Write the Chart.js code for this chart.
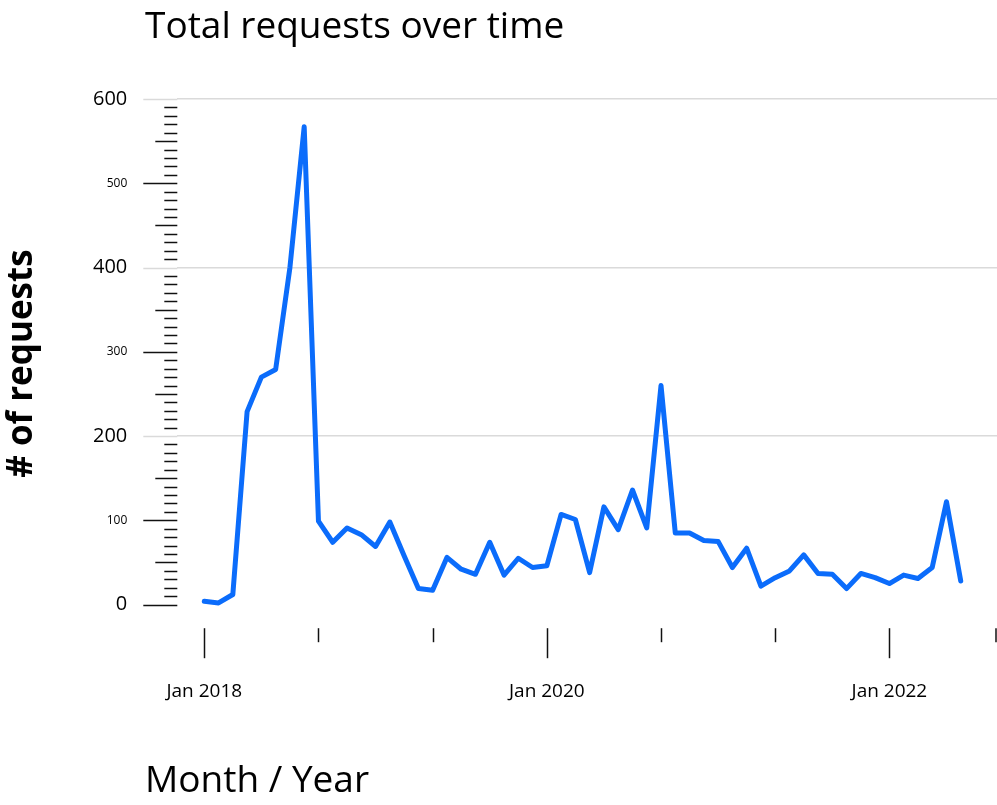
<!DOCTYPE html>
<html>
<head>
<meta charset="utf-8">
<script src="https://cdn.jsdelivr.net/npm/chart.js@4"></script>
<style>
  html, body { margin: 0; padding: 0; background: #fff; }
  #wrap { width: 997px; height: 805px; }
</style>
</head>
<body>
<div id="wrap"><canvas id="chart"></canvas></div>
<script>
// Monthly totals, Jan 2018 - Jun 2022
const months = [
  'Jan 2018','Feb 2018','Mar 2018','Apr 2018','May 2018','Jun 2018','Jul 2018','Aug 2018','Sep 2018','Oct 2018','Nov 2018','Dec 2018',
  'Jan 2019','Feb 2019','Mar 2019','Apr 2019','May 2019','Jun 2019','Jul 2019','Aug 2019','Sep 2019','Oct 2019','Nov 2019','Dec 2019',
  'Jan 2020','Feb 2020','Mar 2020','Apr 2020','May 2020','Jun 2020','Jul 2020','Aug 2020','Sep 2020','Oct 2020','Nov 2020','Dec 2020',
  'Jan 2021','Feb 2021','Mar 2021','Apr 2021','May 2021','Jun 2021','Jul 2021','Aug 2021','Sep 2021','Oct 2021','Nov 2021','Dec 2021',
  'Jan 2022','Feb 2022','Mar 2022','Apr 2022','May 2022','Jun 2022'
];
const requests = [
  4, 2, 12, 229, 270, 279, 400, 567, 99, 74, 91, 83,
  69, 98, 58, 19, 17, 56, 42, 36, 74, 35, 55, 44,
  46, 107, 101, 38, 116, 89, 136, 91, 260, 85, 85, 76,
  75, 44, 67, 22, 32, 40, 59, 37, 36, 19, 37, 32,
  25, 35, 31, 44, 122, 28
];
const xTickMonths = [0, 8, 16, 24, 32, 40, 48, 56];
const xTickLabels = ['Jan 2018', 'Jan 2020', 'Jan 2022'];
const yTickValues = [];
for (let v = 0; v <= 600; v += 10) yTickValues.push(v);
const yLabelValues = [0, 100, 200, 300, 400, 500, 600];
const yGridValues = [200, 400, 600];

const FONT = '"Open Sans", Lato, sans-serif';
const DARK = '#111';
const GRID = '#dadada';

// draws the ruler-style tick marks and the two header texts
const decorations = {
  id: 'decorations',
  afterDraw(chart) {
    const ctx = chart.ctx;
    const area = chart.chartArea;
    const ys = chart.scales.y, xs = chart.scales.x;
    ctx.save();
    ctx.lineWidth = 1.5;
    ys.ticks.forEach(t => {
      const v = t.value;
      const len = v % 100 === 0 ? 34 : (v % 50 === 0 ? 22 : 13);
      const py = Math.round(ys.getPixelForValue(v)) + 0.5;
      ctx.strokeStyle = yGridValues.includes(v) ? GRID : DARK;
      ctx.beginPath();
      ctx.moveTo(area.left - len, py);
      ctx.lineTo(area.left, py);
      ctx.stroke();
    });
    ctx.strokeStyle = DARK;
    // the last 8-month tick sits just past the scale max, at the canvas edge
    xTickMonths.forEach(m => {
      const px = Math.min(Math.round(xs.getPixelForValue(m)) + 0.5, chart.width - 1);
      const labelled = xTickLabels.includes(months[m]);
      const len = labelled ? 30 : 14;
      ctx.beginPath();
      ctx.moveTo(px, area.bottom);
      ctx.lineTo(px, area.bottom + len);
      ctx.stroke();
    });
    ctx.fillStyle = '#000';
    ctx.textAlign = 'left';
    ctx.textBaseline = 'alphabetic';
    ctx.font = '500 37px ' + FONT;
    ctx.fillText('Total requests over time', 145, 38);
    ctx.fillText('Month / Year', 145, 792);
    ctx.restore();
  }
};

new Chart(document.getElementById('chart'), {
  type: 'line',
  data: {
    datasets: [{
      label: 'Requests',
      data: requests.map((v, i) => ({ x: i, y: v })),
      borderColor: '#0b6cfb',
      borderWidth: 5,
      borderCapStyle: 'round',
      borderJoinStyle: 'round',
      pointRadius: 0,
      tension: 0,
      fill: false
    }]
  },
  options: {
    responsive: true,
    maintainAspectRatio: false,
    animation: false,
    layout: { padding: { top: 99, bottom: 50, left: 0, right: 0 } },
    plugins: {
      legend: { display: false },
      tooltip: { enabled: false }
    },
    scales: {
      x: {
        type: 'linear',
        min: -1.89,
        max: 55.54,
        border: { display: false },
        grid: { display: false, drawTicks: false },
        afterBuildTicks: axis => {
          axis.ticks = xTickMonths.filter(v => v <= axis.max).map(v => ({ value: v }));
        },
        ticks: {
          autoSkip: false,
          maxRotation: 0,
          padding: 52,
          color: '#000',
          font: { family: FONT, size: 19 },
          callback: v => (xTickLabels.includes(months[v]) ? months[v] : '')
        }
      },
      y: {
        min: -28,
        max: 600,
        border: { display: false },
        grid: {
          drawTicks: false,
          lineWidth: 1.5,
          color: c => (c.tick && yGridValues.includes(c.tick.value) ? GRID : 'rgba(0,0,0,0)')
        },
        afterBuildTicks: axis => {
          axis.ticks = yTickValues.map(v => ({ value: v }));
        },
        ticks: {
          autoSkip: false,
          padding: 50,
          color: '#000',
          font: c => ({ family: FONT, size: (c.tick && c.tick.value % 200 === 0) ? 20 : 12 }),
          callback: v => (yLabelValues.includes(v) ? String(v) : '')
        },
        title: {
          display: true,
          text: '# of requests',
          color: '#000',
          font: { family: FONT, size: 35, weight: 'bold' },
          padding: { top: 1, bottom: 0 }
        }
      }
    }
  },
  plugins: [decorations]
});
</script>
</body>
</html>
